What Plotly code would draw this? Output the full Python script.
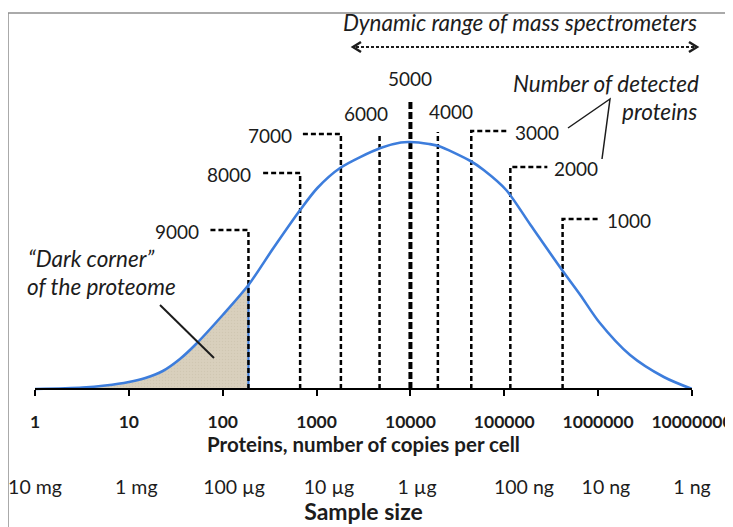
import numpy as np
import plotly.graph_objects as go

# ---------------- data ----------------
# abundance distribution (copies per cell -> relative number of proteins)
curve_copies = [1, 3.2, 5.6, 10, 15, 23, 35, 52, 100, 188, 347, 668, 1020, 1780, 4790, 7900,
                10000, 15800, 19950, 43600, 60300, 104700, 190500, 398000, 645700,
                1023000, 2188000, 5012000, 10000000]
curve_level = [0, 1.5, 3.5, 7, 11, 18, 30, 45, 74, 104, 141, 179, 201, 221, 241, 246.5,
               247, 245, 243, 228, 219, 199, 164, 121, 94, 67, 34, 12, 0]

# "dark corner" cut-off (copies per cell)
dark_corner_limit = 188

# detection thresholds: number of detected proteins and copy-number cut-off
detected_proteins = [9000, 8000, 7000, 6000, 5000, 4000, 3000, 2000, 1000]
threshold_copies = [188, 668, 1816, 4690, 10000, 19600, 44500, 116000, 418000]
threshold_level = [159, 216, 255, 255, 290, 257, 258, 222, 170]
label_side = ["left", "left", "left", "top", "top", "top", "right", "right", "right"]

# axis ticks
copy_ticks = [1, 10, 100, 1000, 10000, 100000, 1000000, 10000000]
copy_tick_text = ["1", "10", "100", "1000", "10000", "100000", "1000000", "10000000"]
sample_copies = [1, 12, 132, 1356, 11740, 162000, 1210000, 10000000]
sample_labels = ["10 mg", "1 mg", "100 µg", "10 µg", "1 µg", "100 ng", "10 ng", "1 ng"]

# ---------------- style / geometry helpers ----------------
# page is offset by 8px (body margin), so figure is 8px smaller
W, H = 725, 519
L, R, T, B = 27, 41, 5, 0
PW, PH = W - L - R, H - T - B
DEC = PW / 7.0          # pixels per decade
SCREEN_LEFT, SCREEN_BOTTOM = 35, 527
BASE = 389              # screen row of the copy-number axis
Y0 = -(SCREEN_BOTTOM - BASE)
Y1 = Y0 + PH

FONT = "Lato"
INK = "#1c1c1c"
BLUE = "#3d7ddc"


def xp(px):
    return (px - SCREEN_LEFT) / PW


def yp(py):
    return (SCREEN_BOTTOM - py) / PH


fig = go.Figure()

# shaded "dark corner"
sh_x = [c for c in curve_copies if c <= dark_corner_limit]
sh_y = [v for c, v in zip(curve_copies, curve_level) if c <= dark_corner_limit]
fig.add_trace(go.Scatter(
    x=sh_x, y=sh_y, mode="lines", line=dict(width=0, shape="spline", smoothing=0.8),
    fill="tozeroy", fillcolor="#d9d0bd",
    fillpattern=dict(shape=".", bgcolor="#d9d0bd", fgcolor="#c8bea8", size=3, solidity=0.2),
    hoverinfo="skip"))
# blue outline of the dark corner (bottom + right edge)
fig.add_trace(go.Scatter(
    x=[curve_copies[0], dark_corner_limit, dark_corner_limit],
    y=[0, 0, sh_y[-1]], mode="lines", line=dict(color=BLUE, width=2.2), hoverinfo="skip"))

# threshold dashed lines
for n, c, lv, side in zip(detected_proteins, threshold_copies, threshold_level, label_side):
    xs, ys = [c, c], [0, lv]
    leg = (40 if side == "left" else 37) / DEC
    if side == "left":
        xs.append(c / 10 ** leg); ys.append(lv)
    elif side == "right":
        xs.append(c * 10 ** leg); ys.append(lv)
    thick = (n == 5000)
    fig.add_trace(go.Scatter(
        x=xs, y=ys, mode="lines",
        line=dict(color="black", width=4 if thick else 2.5, dash="7px,3px" if thick else "5px,3px"),
        hoverinfo="skip"))
    lx = np.log10(c)
    if side == "left":
        fig.add_annotation(x=lx - leg, y=lv, text=str(n), showarrow=False, xanchor="right",
                           yanchor="middle", xshift=-7, yshift=-1)
    elif side == "right":
        fig.add_annotation(x=lx + leg, y=lv, text=str(n), showarrow=False, xanchor="left",
                           yanchor="middle", xshift=5, yshift=-1)
    else:
        shift = {6000: -14, 5000: 0, 4000: 13}[n]
        fig.add_annotation(x=lx, y=lv, text=str(n), showarrow=False, xanchor="center",
                           yanchor="bottom", xshift=shift, yshift=7)

# main distribution curve
fig.add_trace(go.Scatter(
    x=curve_copies, y=curve_level, mode="lines",
    line=dict(color=BLUE, width=2.6, shape="spline", smoothing=0.8), hoverinfo="skip"))

# invisible trace to carry the sample-size axis
fig.add_trace(go.Scatter(x=[sample_copies[0], sample_copies[-1]], y=[0, 0], xaxis="x2",
                         mode="markers", marker=dict(opacity=0), hoverinfo="skip"))

for a in fig.layout.annotations:
    a.font = dict(family=FONT, size=19, color=INK)

# italic notes
notes = [
    ("Dynamic range of mass spectrometers", 699, 22, "right"),
    ("Number of detected", 701, 84, "right"),
    ("proteins", 699, 112, "right"),
    ("\u201cDark corner\u201d", 26, 259, "left"),
    ("of the proteome", 25, 286, "left"),
]
for txt, x, y, anc in notes:
    fig.add_annotation(xref="paper", yref="paper", x=xp(x), y=yp(y), text=txt,
                       showarrow=False, xanchor=anc, yanchor="middle",
                       font=dict(family=FONT, size=22.5, color=INK, style="italic"))

shapes = []
# frame
shapes.append(dict(type="rect", xref="paper", yref="paper", x0=xp(8), x1=xp(770),
                   y0=yp(600), y1=yp(13), line=dict(color="#8e8e8e", width=1.5)))
# dynamic range double arrow
shapes.append(dict(type="line", xref="paper", yref="paper", x0=xp(356), x1=xp(694),
                   y0=yp(47), y1=yp(47), line=dict(color=INK, width=2, dash="3px,2px")))
for tip, back in [(353, 361), (697, 689)]:
    shapes.append(dict(type="path", xref="paper", yref="paper",
                       path=f"M {xp(back)},{yp(42)} L {xp(tip)},{yp(47)} L {xp(back)},{yp(52)}",
                       line=dict(color=INK, width=2.5)))
# caret pointing to 3000 / 2000 labels
shapes.append(dict(type="path", xref="paper", yref="paper",
                   path=f"M {xp(568)},{yp(128)} L {xp(610)},{yp(99)} L {xp(602)},{yp(159)}",
                   line=dict(color=INK, width=1.5)))
# pointer into the dark corner
shapes.append(dict(type="line", xref="paper", yref="paper", x0=xp(160), y0=yp(305),
                   x1=xp(214), y1=yp(358), line=dict(color=INK, width=2)))

fig.update_layout(
    width=W, height=H, margin=dict(l=L, r=R, t=T, b=B, pad=0),
    paper_bgcolor="white", plot_bgcolor="white", showlegend=False,
    shapes=shapes,
    xaxis=dict(type="log", range=[0, 7], anchor="free", position=yp(BASE),
               showline=True, linecolor="black", linewidth=1.5, showgrid=False, zeroline=False,
               ticks="outside", ticklen=6, tickwidth=1.5, tickcolor="black",
               tickvals=copy_ticks, ticktext=copy_tick_text, ticklabelstandoff=11,
               tickfont=dict(family=FONT, size=17.5, color=INK, weight="bold"),
               title=dict(text="Proteins, number of copies per cell", standoff=3,
                          font=dict(family=FONT, size=20.5, color=INK, weight="bold"))),
    xaxis2=dict(type="log", range=[0, 7], overlaying="x", anchor="free", position=yp(471),
                showline=False, showgrid=False, zeroline=False, ticks="", ticklen=0,
                tickvals=sample_copies, ticktext=sample_labels, ticklabelstandoff=2,
                tickfont=dict(family=FONT, size=19.5, color=INK),
                title=dict(text="Sample size", standoff=6,
                           font=dict(family=FONT, size=23, color=INK, weight="bold"))),
    yaxis=dict(range=[Y0, Y1], visible=False, fixedrange=True),
)

fig.write_html("out.html")
